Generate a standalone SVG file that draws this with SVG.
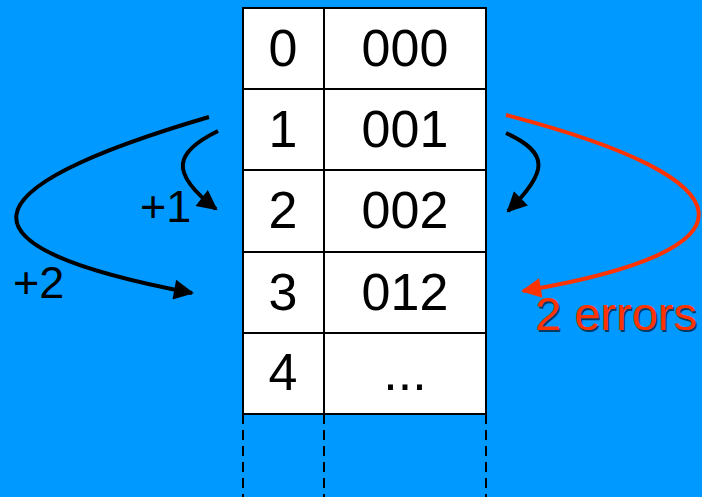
<svg xmlns="http://www.w3.org/2000/svg" width="702" height="497" viewBox="0 0 702 497">
<defs>
<style>
.cell{fill:#fff;stroke:#000;stroke-width:2}
.t{font-family:"Liberation Sans",Arial,sans-serif;font-size:52px;fill:#000;text-anchor:middle}
.lbl{font-family:"Liberation Sans",Arial,sans-serif;font-size:45px;fill:#000}
.err{font-family:"Liberation Sans",Arial,sans-serif;font-size:47px;fill:#ff3300}
.errs{font-family:"Liberation Sans",Arial,sans-serif;font-size:47px;fill:#000;opacity:0.6}
.dash{stroke:#000;stroke-width:2;stroke-dasharray:10 6;fill:none}
.blk{fill:none;stroke:#000;stroke-width:4}
.red{fill:none;stroke:#ff3300;stroke-width:4}
</style>
<marker id="ab" viewBox="0 0 10 10" refX="9" refY="5" markerWidth="6" markerHeight="5" markerUnits="strokeWidth" orient="auto">
<path d="M0,0 L10,5 L0,10 z" fill="#000"/>
</marker>
<marker id="ar" viewBox="0 0 10 10" refX="9" refY="5" markerWidth="6" markerHeight="5" markerUnits="strokeWidth" orient="auto">
<path d="M0,0 L10,5 L0,10 z" fill="#ff3300"/>
</marker>
</defs>
<rect x="0" y="0" width="702" height="497" fill="#0099ff"/>
<g id="table">
<g id="row0"><rect class="cell" x="243" y="8" width="81" height="81"/><rect class="cell" x="324" y="8" width="162" height="81"/><text class="t" x="283" y="66">0</text><text class="t" x="405" y="66">000</text></g>
<g id="row1"><rect class="cell" x="243" y="89" width="81" height="81"/><rect class="cell" x="324" y="89" width="162" height="81"/><text class="t" x="283" y="147">1</text><text class="t" x="405" y="147">001</text></g>
<g id="row2"><rect class="cell" x="243" y="170" width="81" height="82"/><rect class="cell" x="324" y="170" width="162" height="82"/><text class="t" x="283" y="228">2</text><text class="t" x="405" y="228">002</text></g>
<g id="row3"><rect class="cell" x="243" y="252" width="81" height="81"/><rect class="cell" x="324" y="252" width="162" height="81"/><text class="t" x="283" y="310">3</text><text class="t" x="405" y="310">012</text></g>
<g id="row4"><rect class="cell" x="243" y="333" width="81" height="81"/><rect class="cell" x="324" y="333" width="162" height="81"/><text class="t" x="283" y="390">4</text><text class="t" x="405" y="390">...</text></g>
<g id="dashes"><line class="dash" x1="243" y1="414" x2="243" y2="497"/><line class="dash" x1="324" y1="414" x2="324" y2="497"/><line class="dash" x1="486" y1="414" x2="486" y2="497"/></g>
</g>
<g id="connectors">
<path class="blk" marker-end="url(#ab)" d="M209,117 C-40,190 -50,247 192,293"/>
<path class="blk" marker-end="url(#ab)" d="M218,131 C175,152 168,172 216,209"/>
<path class="blk" marker-end="url(#ab)" d="M506,133 C550,153 548,172 508,211"/>
<path class="red" marker-end="url(#ar)" d="M506,115 C755,180 765,250 523,291"/>
</g>
<g id="labels">
<text class="lbl" x="140" y="222">+1</text>
<text class="lbl" x="13" y="298">+2</text>
<text class="errs" x="536.5" y="331.5">2 errors</text>
<text class="err" x="535" y="330">2 errors</text>
</g>
</svg>
